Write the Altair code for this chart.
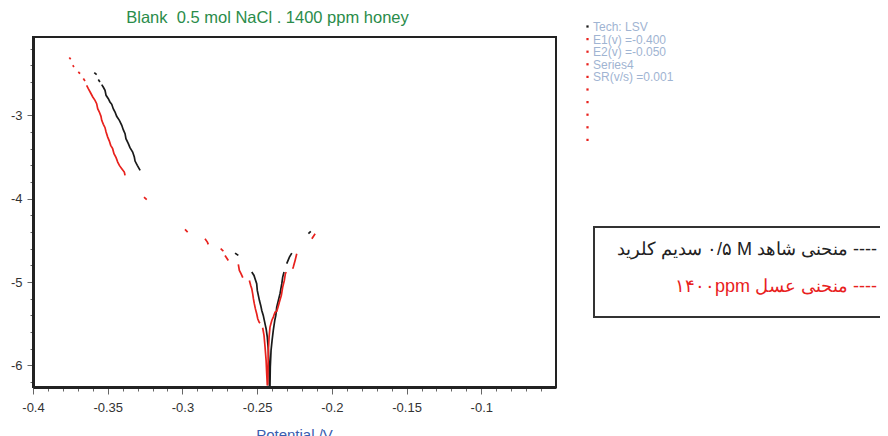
import altair as alt
import pandas as pd

# ---------------- data ----------------
black_x = [-0.3590, -0.3574,
           -0.3563, -0.3552,
           -0.3540, -0.3530, -0.3518, -0.3511, -0.3496, -0.3485, -0.3473, -0.3463, -0.3451, -0.3440,
           -0.3422, -0.3406, -0.3396, -0.3384, -0.3378, -0.3362, -0.3351, -0.3333, -0.3322, -0.3317,
           -0.3302, -0.3283,
           -0.2648, -0.2626,
           -0.2536, -0.2521, -0.2514, -0.2503, -0.2499, -0.2492, -0.2485, -0.2476, -0.2469, -0.2459,
           -0.2452, -0.2445, -0.2440, -0.2432, -0.2425, -0.2420, -0.2418,
           -0.2414, -0.2412, -0.2407, -0.2400, -0.2392, -0.2382, -0.2375, -0.2369, -0.2358, -0.2347,
           -0.2335, -0.2329, -0.2320,
           -0.2302, -0.2284, -0.2268,
           -0.2157, -0.2141]
black_y = [-2.487, -2.511,
           -2.571, -2.600,
           -2.631, -2.660, -2.700, -2.760, -2.800, -2.840, -2.868, -2.920, -2.960, -3.012,
           -3.060, -3.120, -3.172, -3.220, -3.280, -3.340, -3.388, -3.441, -3.501, -3.549,
           -3.600, -3.660,
           -4.653, -4.681,
           -4.881, -4.921, -4.960, -5.020, -5.101, -5.161, -5.220, -5.281, -5.341, -5.401,
           -5.461, -5.521, -5.561, -5.661, -5.821, -6.021, -6.241,
           -6.241, -6.021, -5.821, -5.701, -5.581, -5.461, -5.401, -5.301, -5.220, -5.141,
           -5.020, -4.941, -4.881,
           -4.780, -4.701, -4.653,
           -4.420, -4.392]
black_seg = [1, 1,
             2, 2,
             3, 3, 3, 3, 3, 3, 3, 3, 3, 3,
             3, 3, 3, 3, 3, 3, 3, 3, 3, 3,
             3, 3,
             4, 4,
             5, 5, 5, 5, 5, 5, 5, 5, 5, 5,
             5, 5, 5, 5, 5, 5, 5,
             5, 5, 5, 5, 5, 5, 5, 5, 5, 5,
             5, 5, 5,
             6, 6, 6,
             7, 7]

red_x = [-0.3757, -0.3748,
         -0.3734, -0.3726,
         -0.3697, -0.3685,
         -0.3663, -0.3652,
         -0.3641, -0.3630, -0.3614, -0.3600, -0.3585, -0.3574, -0.3567, -0.3556, -0.3545, -0.3540,
         -0.3529, -0.3518, -0.3511, -0.3500, -0.3489, -0.3480, -0.3467, -0.3458, -0.3444, -0.3433,
         -0.3422, -0.3406, -0.3389, -0.3384,
         -0.3257, -0.3239,
         -0.2983, -0.2965,
         -0.2849, -0.2833, -0.2827,
         -0.2744, -0.2726,
         -0.2715, -0.2693,
         -0.2626, -0.2619, -0.2608, -0.2596,
         -0.2552, -0.2543, -0.2536, -0.2530, -0.2525, -0.2519, -0.2512, -0.2503, -0.2496, -0.2487,
         -0.2481,
         -0.2463, -0.2454, -0.2447, -0.2440, -0.2436, -0.2432,
         -0.2429, -0.2427, -0.2425, -0.2420, -0.2414, -0.2402, -0.2392, -0.2380, -0.2369, -0.2360,
         -0.2351, -0.2338, -0.2329, -0.2318, -0.2311, -0.2305,
         -0.2262, -0.2258, -0.2246, -0.2235,
         -0.2134, -0.2124, -0.2112]
red_y = [-2.307, -2.328,
         -2.400, -2.420,
         -2.480, -2.499,
         -2.559, -2.588,
         -2.640, -2.679, -2.732, -2.780, -2.820, -2.860, -2.920, -2.960, -3.012, -3.060,
         -3.108, -3.148, -3.200, -3.261, -3.309, -3.360, -3.400, -3.460, -3.508, -3.561,
         -3.601, -3.640, -3.681, -3.721,
         -3.981, -4.012,
         -4.369, -4.401,
         -4.480, -4.521, -4.549,
         -4.600, -4.629,
         -4.681, -4.741,
         -4.789, -4.861, -4.900, -4.948,
         -4.981, -5.041, -5.080, -5.140, -5.200, -5.260, -5.320, -5.381, -5.441, -5.481,
         -5.493,
         -5.549, -5.641, -5.781, -5.941, -6.101, -6.241,
         -6.221, -6.021, -5.821, -5.661, -5.541, -5.461, -5.421, -5.361, -5.353, -5.301,
         -5.241, -5.161, -5.061, -4.981, -4.900, -4.881,
         -4.841, -4.821, -4.741, -4.661,
         -4.481, -4.453, -4.420]
red_seg = [1, 1,
           2, 2,
           3, 3,
           4, 4,
           5, 5, 5, 5, 5, 5, 5, 5, 5, 5,
           5, 5, 5, 5, 5, 5, 5, 5, 5, 5,
           5, 5, 5, 5,
           6, 6,
           7, 7,
           8, 8, 8,
           9, 9,
           10, 10,
           11, 11, 11, 11,
           12, 12, 12, 12, 12, 12, 12, 12, 12, 12,
           12,
           13, 13, 13, 13, 13, 13,
           13, 13, 13, 13, 13, 13, 13, 13, 13, 13,
           13, 13, 13, 13, 13, 13,
           14, 14, 14, 14,
           15, 15, 15]

series_names = ["blank", "honey"]
series_colors = ["#1a1a1a", "#e8211d"]

x_domain = [-0.4, -0.05]
y_domain = [-6.26, -2.06]
x_ticks = [round(-0.40 + 0.01 * i, 2) for i in range(35)]
y_ticks = [round(-6.2 + 0.2 * i, 1) for i in range(21)]

title_text = "Blank \u00a00.5 mol NaCl . 1400 ppm honey"
info_labels = ["Tech: LSV", "E1(v) =-0.400", "E2(v) =-0.050", "Series4", "SR(v/s) =0.001"]
marker_colors = ["#1a1a1a"] + ["#e8211d"] * 9
legend_line1 = "سدیم کلرید \u200e۰/۵ M منحنی شاهد ----"
legend_line2 = "۱۴۰۰ppm منحنی عسل ----"
x_title = "Potential /V"

# ---------------- table ----------------
rows = []
for i, (x, y, s) in enumerate(zip(black_x, black_y, black_seg)):
    rows.append({"x": x, "y": y, "series": "blank", "key": f"b{s}", "i": i})
for i, (x, y, s) in enumerate(zip(red_x, red_y, red_seg)):
    rows.append({"x": x, "y": y, "series": "honey", "key": f"r{s}", "i": i})
df = pd.DataFrame(rows)

FONT = "Liberation Sans"

x_axis = alt.Axis(
    values=x_ticks, title=None, grid=False,
    labelExpr="abs(datum.value*20 - round(datum.value*20)) < 0.01 ? '-' + format(abs(datum.value), '~g') : ''",
    tickSize={"condition": {"test": "abs(datum.value*20 - round(datum.value*20)) < 0.01", "value": 7}, "value": 4},
    labelFont=FONT, labelFontSize=13, labelColor="#333", labelPadding=7,
    labelFlush=False, labelOverlap=False,
    domainColor="#222", domainWidth=3, tickColor="#666", tickWidth=1,
)
y_axis = alt.Axis(
    values=y_ticks, title=None, grid=False,
    labelExpr="abs(datum.value - round(datum.value)) < 0.01 ? '-' + format(abs(datum.value), '~g') : ''",
    tickSize={"condition": {"test": "abs(datum.value - round(datum.value)) < 0.01", "value": 6}, "value": 3},
    labelFont=FONT, labelFontSize=13, labelColor="#333", labelPadding=5,
    labelFlush=False, labelOverlap=False,
    domainColor="#222", domainWidth=3, tickColor="#666", tickWidth=1,
)

lines = alt.Chart(df).mark_line(strokeWidth=1.7).encode(
    x=alt.X("x:Q", scale=alt.Scale(domain=x_domain, nice=False, zero=False), axis=x_axis),
    y=alt.Y("y:Q", scale=alt.Scale(domain=y_domain, nice=False, zero=False), axis=y_axis),
    color=alt.Color("series:N", scale=alt.Scale(domain=series_names, range=series_colors), legend=None),
    detail="key:N",
    order="i:Q",
)

one = pd.DataFrame({"a": [0]})

layers = [lines]

layers.append(alt.Chart(one).mark_text(
    align="center", baseline="middle", font=FONT, fontSize=16.5, color="#2a8c4a"
).encode(text=alt.value(title_text), x=alt.value(234.5), y=alt.value(-19)))

layers.append(alt.Chart(one).mark_text(
    align="center", baseline="top", font=FONT, fontSize=15, color="#3a5db0"
).encode(text=alt.value(x_title), x=alt.value(261.5), y=alt.value(391)))

for k, lab in enumerate(info_labels):
    layers.append(alt.Chart(one).mark_text(
        align="left", baseline="middle", font=FONT, fontSize=12, color="#9fb4d2"
    ).encode(text=alt.value(lab), x=alt.value(560), y=alt.value(-10 + 12.6 * k)))

for k, c in enumerate(marker_colors):
    layers.append(alt.Chart(one).mark_square(size=5, color=c, opacity=1).encode(
        x=alt.value(554.5), y=alt.value(-10.5 + 12.6 * k)))

layers.append(alt.Chart(one).mark_rect(fill="white", stroke="#333", strokeWidth=2).encode(
    x=alt.value(561), x2=alt.value(880), y=alt.value(190), y2=alt.value(280)))

layers.append(alt.Chart(one).mark_text(
    align="right", baseline="middle", font=FONT, fontSize=18, color="#222"
).encode(text=alt.value(legend_line1), x=alt.value(844), y=alt.value(213)))

layers.append(alt.Chart(one).mark_text(
    align="right", baseline="middle", font=FONT, fontSize=18, color="#e8211d"
).encode(text=alt.value(legend_line2), x=alt.value(844), y=alt.value(250)))

chart = alt.layer(*layers).properties(
    width=523, height=350,
    autosize=alt.AutoSizeParams(type="none"),
    padding={"left": 25, "top": 29, "right": 324, "bottom": 49},
    background="white",
).configure_view(stroke="#222", strokeWidth=2)

chart.save("out.html", embed_options={"renderer": "svg", "actions": False})
